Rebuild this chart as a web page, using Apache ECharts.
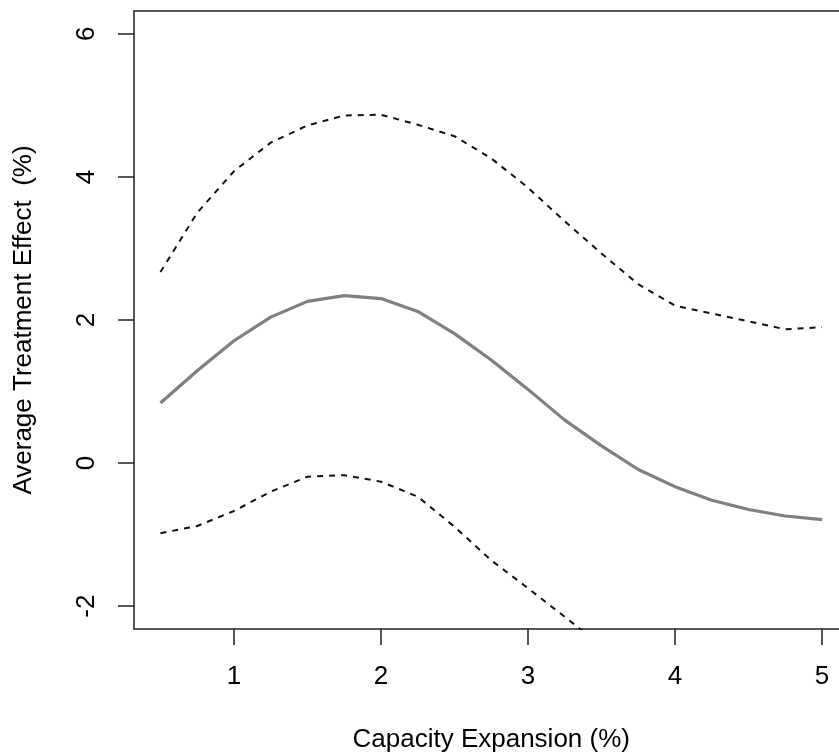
<!DOCTYPE html>
<html>
<head>
<meta charset="utf-8">
<script src="https://cdn.jsdelivr.net/npm/echarts@6/dist/echarts.min.js"></script>
<style>
html,body{margin:0;padding:0;background:#fff;}
#chart{width:839px;height:755px;}
</style>
</head>
<body>
<div id="chart"></div>
<script>
const capacity = [0.5,0.75,1,1.25,1.5,1.75,2,2.25,2.5,2.75,3,3.25,3.5,3.75,4,4.25,4.5,4.75,5];
const estimate = [0.84,1.29,1.71,2.04,2.26,2.34,2.30,2.12,1.81,1.44,1.03,0.60,0.24,-0.09,-0.33,-0.52,-0.65,-0.74,-0.79];
const upper = [2.67,3.50,4.08,4.48,4.72,4.86,4.87,4.73,4.57,4.26,3.85,3.38,2.93,2.50,2.20,2.09,1.98,1.87,1.90];
const lower = [-0.98,-0.88,-0.67,-0.40,-0.19,-0.17,-0.26,-0.47,-0.89,-1.36,-1.75,-2.15,-2.55,-2.75,-2.90,-3.13,-3.28,-3.35,-3.48];
const xTicks = [1,2,3,4,5];
const yTicks = [-2,0,2,4,6];

const pair = (ys) => capacity.map((x, i) => [x, ys[i]]);
const font = 'Liberation Sans, Arial, Helvetica, sans-serif';
const ink = '#000';

const chart = echarts.init(document.getElementById('chart'), null, {renderer: 'canvas'});
chart.setOption({
  animation: false,
  backgroundColor: '#ffffff',
  grid: {
    left: 134, top: 11, width: 714.5, height: 618,
    show: true, borderColor: '#222', borderWidth: 1.5,
    containLabel: false, outerBoundsMode: 'none'
  },
  xAxis: {
    type: 'value', min: 0.32, max: 5.18, position: 'bottom',
    name: 'Capacity Expansion (%)', nameLocation: 'middle', nameGap: 98,
    nameTextStyle: {fontFamily: font, fontSize: 26, color: ink},
    axisLine: {show: false, onZero: false},
    axisTick: {show: true, customValues: xTicks, length: 16, lineStyle: {color: '#222', width: 1.5}},
    axisLabel: {customValues: xTicks, margin: 35, fontFamily: font, fontSize: 26, color: ink},
    splitLine: {show: false}
  },
  yAxis: {
    type: 'value', min: -2.32, max: 6.32, position: 'left',
    name: 'Average Treatment Effect  (%)', nameLocation: 'middle', nameGap: 97, nameRotate: 90,
    nameTextStyle: {fontFamily: font, fontSize: 26, color: ink},
    axisLine: {show: false, onZero: false},
    axisTick: {show: true, customValues: yTicks, length: 16, lineStyle: {color: '#222', width: 1.5}},
    axisLabel: {customValues: yTicks, rotate: 90, margin: 34, fontFamily: font, fontSize: 26, color: ink},
    splitLine: {show: false}
  },
  series: [
    {type: 'line', data: pair(upper), showSymbol: false, clip: true,
     lineStyle: {color: '#111', width: 2, type: [6, 6]}},
    {type: 'line', data: pair(lower), showSymbol: false, clip: true,
     lineStyle: {color: '#111', width: 2, type: [6, 6]}},
    {type: 'line', data: pair(estimate), showSymbol: false, clip: true,
     lineStyle: {color: '#808080', width: 3.2}}
  ]
});
</script>
</body>
</html>
